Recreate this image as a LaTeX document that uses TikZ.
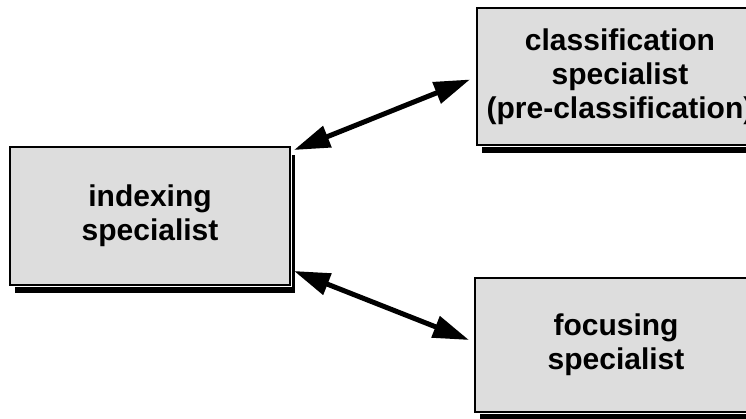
\documentclass[tikz,border=0pt]{standalone}
\usepackage{fontspec}
\setmainfont{Liberation Sans}
\definecolor{boxgray}{RGB}{221, 221, 221}
\usepackage{tikz}
\usetikzlibrary{arrows.meta, positioning, shadows}

\tikzset{
  specbox/.style={draw=black, line width=2pt, fill=boxgray, inner sep=0pt,
    align=center, font=\fontsize{30}{34}\selectfont\bfseries,
    drop shadow={shadow xshift=5pt, shadow yshift=-8pt, fill=black, opacity=1},
    preaction={draw=white, line width=4pt}},
  linkarrow/.style={{Triangle[length=36pt, width=22pt]}-{Triangle[length=36pt, width=22pt]}, line width=5pt, black}
}

\begin{document}
\begin{tikzpicture}[x=1pt, y=1pt]
  \useasboundingbox (0, 0) rectangle (746, 418);

  % The three specialists
  \node[specbox, minimum width=280pt, minimum height=138pt] (idx) at (150, 202) {indexing\\specialist};
  \node[specbox, minimum width=286pt, minimum height=137pt] (cls) at (620, 341.5) {classification\\specialist\\(pre-classification)};
  \node[specbox, minimum width=282pt, minimum height=134pt] (foc) at (616, 73) {focusing\\specialist};

  % Two-way links
  \draw[linkarrow] ([shift={(3pt,-4pt)}]idx.north east) -- ([shift={(-6pt,-3pt)}]cls.west);
  \draw[linkarrow] ([shift={(3pt,15pt)}]idx.south east) -- ([shift={(-5pt,5pt)}]foc.west);
\end{tikzpicture}
\end{document}
